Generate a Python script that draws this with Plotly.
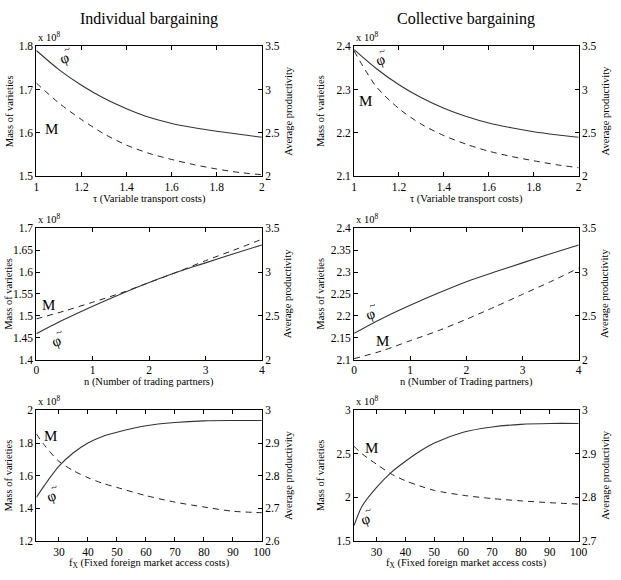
import plotly.graph_objects as go

# ---------------- data ----------------
tau = [1.0, 1.1, 1.2, 1.3, 1.4, 1.5, 1.6, 1.7, 1.8, 1.9, 2.0]
ind_tau_prod = [3.45, 3.23, 3.05, 2.90, 2.78, 2.68, 2.61, 2.56, 2.52, 2.485, 2.45]
ind_tau_mass = [1.715, 1.669, 1.631, 1.598, 1.572, 1.553, 1.539, 1.527, 1.517, 1.509, 1.504]
col_tau_prod = [3.46, 3.24, 3.055, 2.905, 2.785, 2.69, 2.615, 2.56, 2.515, 2.48, 2.45]
col_tau_mass = [2.389, 2.306, 2.256, 2.220, 2.194, 2.174, 2.158, 2.146, 2.136, 2.127, 2.120]

n_partners = [0, 0.5, 1, 1.5, 2, 2.5, 3, 3.5, 4]
ind_n_prod = [2.295, 2.46, 2.61, 2.75, 2.88, 3.00, 3.105, 3.21, 3.31]
ind_n_mass = [1.493, 1.511, 1.531, 1.552, 1.576, 1.600, 1.626, 1.650, 1.675]
col_n_prod = [2.30, 2.47, 2.62, 2.76, 2.89, 3.00, 3.105, 3.21, 3.31]
col_n_mass = [2.102, 2.120, 2.143, 2.166, 2.192, 2.220, 2.249, 2.278, 2.309]

fx = [22.2, 25, 30, 35, 40, 45, 50, 60, 70, 80, 90, 100]
ind_fx_prod = [2.733, 2.77, 2.829, 2.87, 2.90, 2.92, 2.933, 2.953, 2.963, 2.968, 2.969, 2.969]
ind_fx_mass = [1.856, 1.787, 1.687, 1.63, 1.587, 1.553, 1.527, 1.477, 1.437, 1.407, 1.381, 1.372]
col_fx_prod = [2.735, 2.78, 2.823, 2.857, 2.883, 2.906, 2.925, 2.95, 2.962, 2.968, 2.970, 2.970]
col_fx_mass = [2.586, 2.50, 2.38, 2.27, 2.19, 2.13, 2.079, 2.023, 1.985, 1.959, 1.938, 1.921]

titles = ["Individual bargaining", "Collective bargaining"]
xlabels = ["τ (Variable transport costs)", "τ (Variable transport costs)",
           "n (Number of trading partners)", "n (Number of Trading partners)",
           "f<sub>X</sub> (Fixed foreign market access costs)",
           "f<sub>X</sub> (Fixed foreign market access costs)"]

# ---------------- layout geometry ----------------
W, H = 621, 580
cols_px = [(34, 264), (358, 587)]
rows_px = [(41, 174), (227, 361), (413, 546)]
ytitle_left_off = [28, 34]

panels = [
    dict(x=tau, prod=ind_tau_prod, mass=ind_tau_mass, xr=[1, 2], xt=[1, 1.2, 1.4, 1.6, 1.8, 2],
         xtt=["1", "1.2", "1.4", "1.6", "1.8", "2"],
         lr=[1.5, 1.8], lt=[1.5, 1.6, 1.7, 1.8], ltt=["1.5", "1.6", "1.7", "1.8"],
         rr=[2, 3.5], rt=[2, 2.5, 3, 3.5], rtt=["2", "2.5", "3", "3.5"],
         M=(1.068, 1.609), P=(1.126, 1.772)),
    dict(x=tau, prod=col_tau_prod, mass=col_tau_mass, xr=[1, 2], xt=[1, 1.2, 1.4, 1.6, 1.8, 2],
         xtt=["1", "1.2", "1.4", "1.6", "1.8", "2"],
         lr=[2.1, 2.4], lt=[2.1, 2.2, 2.3, 2.4], ltt=["2.1", "2.2", "2.3", "2.4"],
         rr=[2, 3.5], rt=[2, 2.5, 3, 3.5], rtt=["2", "2.5", "3", "3.5"],
         M=(1.051, 2.273), P=(1.116, 2.368)),
    dict(x=n_partners, prod=ind_n_prod, mass=ind_n_mass, xr=[0, 4], xt=[0, 1, 2, 3, 4],
         xtt=["0", "1", "2", "3", "4"],
         lr=[1.4, 1.7], lt=[1.4, 1.45, 1.5, 1.55, 1.6, 1.65, 1.7],
         ltt=["1.4", "1.45", "1.5", "1.55", "1.6", "1.65", "1.7"],
         rr=[2, 3.5], rt=[2, 2.5, 3, 3.5], rtt=["2", "2.5", "3", "3.5"],
         M=(0.214, 1.525), P=(0.36, 1.443)),
    dict(x=n_partners, prod=col_n_prod, mass=col_n_mass, xr=[0, 4], xt=[0, 1, 2, 3, 4],
         xtt=["0", "1", "2", "3", "4"],
         lr=[2.1, 2.4], lt=[2.1, 2.15, 2.2, 2.25, 2.3, 2.35, 2.4],
         ltt=["2.1", "2.15", "2.2", "2.25", "2.3", "2.35", "2.4"],
         rr=[2, 3.5], rt=[2, 2.5, 3, 3.5], rtt=["2", "2.5", "3", "3.5"],
         M=(0.507, 2.143), P=(0.29, 2.205)),
    dict(x=fx, prod=ind_fx_prod, mass=ind_fx_mass, xr=[22.2, 100], xt=[30, 40, 50, 60, 70, 80, 90, 100],
         xtt=["30", "40", "50", "60", "70", "80", "90", "100"],
         lr=[1.2, 2.0], lt=[1.2, 1.4, 1.6, 1.8, 2.0], ltt=["1.2", "1.4", "1.6", "1.8", "2"],
         rr=[2.6, 3.0], rt=[2.6, 2.7, 2.8, 2.9, 3.0], rtt=["2.6", "2.7", "2.8", "2.9", "3"],
         M=(26.96, 1.846), P=(27.5, 1.475)),
    dict(x=fx, prod=col_fx_prod, mass=col_fx_mass, xr=[22.2, 100], xt=[30, 40, 50, 60, 70, 80, 90, 100],
         xtt=["30", "40", "50", "60", "70", "80", "90", "100"],
         lr=[1.5, 3.0], lt=[1.5, 2.0, 2.5, 3.0], ltt=["1.5", "2", "2.5", "3"],
         rr=[2.7, 3.0], rt=[2.7, 2.8, 2.9, 3.0], rtt=["2.7", "2.8", "2.9", "3"],
         M=(28.3, 2.568), P=(26.2, 1.75)),
]

FONT = "Liberation Serif"
fig = go.Figure()
layout = dict(width=W, height=H, margin=dict(l=0, r=0, t=0, b=0),
              paper_bgcolor="white", plot_bgcolor="white", showlegend=False,
              font=dict(family=FONT, size=11, color="black"))
annotations = []

for i, p in enumerate(panels):
    r, c = divmod(i, 2)
    x0, x1 = cols_px[c]
    y0, y1 = rows_px[r]
    xd = [x0 / W, x1 / W]
    yd = [1 - y1 / H, 1 - y0 / H]
    xa = f"x{i+1}"
    yl = f"y{2*i+1}"
    yr = f"y{2*i+2}"
    xkey = "xaxis" if i == 0 else f"xaxis{i+1}"
    ylkey = "yaxis" if 2 * i + 1 == 1 else f"yaxis{2*i+1}"
    yrkey = f"yaxis{2*i+2}"

    layout[xkey] = dict(domain=xd, anchor=yl, range=p["xr"], tickvals=p["xt"], ticktext=p["xtt"],
                        ticks="inside", ticklen=4, tickcolor="black", showline=True, linecolor="black",
                        linewidth=1, mirror="ticks", showgrid=False, zeroline=False,
                        tickfont=dict(size=11.5, family=FONT))
    layout[ylkey] = dict(domain=yd, anchor=xa, range=p["lr"], tickvals=p["lt"], ticktext=p["ltt"],
                         ticks="inside", ticklen=4, tickcolor="black", showline=True, linecolor="black",
                         linewidth=1, showgrid=False, zeroline=False, side="left",
                         tickfont=dict(size=11.5, family=FONT))
    layout[yrkey] = dict(domain=yd, anchor=xa, overlaying=yl, side="right", range=p["rr"],
                         tickvals=p["rt"], ticktext=p["rtt"], ticks="inside", ticklen=4,
                         tickcolor="black", showline=True, linecolor="black", linewidth=1,
                         showgrid=False, zeroline=False, tickfont=dict(size=11.5, family=FONT))

    fig.add_trace(go.Scatter(x=p["x"], y=p["mass"], xaxis=xa, yaxis=yl, mode="lines",
                             line=dict(color="#222", width=1, dash="6px,5px", shape="spline",
                                       smoothing=0.8),
                             hoverinfo="skip"))
    fig.add_trace(go.Scatter(x=p["x"], y=p["prod"], xaxis=xa, yaxis=yr, mode="lines",
                             line=dict(color="#333", width=1.1, shape="spline", smoothing=0.8),
                             hoverinfo="skip"))

    # curve labels
    annotations.append(dict(x=p["M"][0], y=p["M"][1], xref=xa, yref=yl, text="M", showarrow=False,
                            font=dict(size=15, family=FONT, color="black")))
    annotations.append(dict(x=p["P"][0], y=p["P"][1], xref=xa, yref=yl, text="φ", showarrow=False,
                            textangle=-20, font=dict(size=15, family=FONT, color="black")))
    annotations.append(dict(x=p["P"][0], y=p["P"][1], xref=xa, yref=yl, text="~", showarrow=False,
                            xshift=2, yshift=9, textangle=-20,
                            font=dict(size=11, family=FONT, color="black")))
    # x 10^8
    annotations.append(dict(x=x0 / W, y=1 - (y0 - 1) / H, xref="paper", yref="paper",
                            text="x 10<sup>8</sup>", showarrow=False, xanchor="left", yanchor="bottom",
                            font=dict(size=10.5, family=FONT)))
    # x axis title
    annotations.append(dict(x=(x0 + x1) / 2 / W, y=1 - (y1 + 23) / H, xref="paper", yref="paper",
                            text=xlabels[i], showarrow=False, xanchor="center", yanchor="middle",
                            font=dict(size=10.5, family=FONT)))
    # left y title
    annotations.append(dict(x=(x0 - ytitle_left_off[c]) / W, y=(yd[0] + yd[1]) / 2, xref="paper",
                            yref="paper", text="Mass of varieties", showarrow=False, textangle=-90,
                            xanchor="center", yanchor="middle", font=dict(size=10.5, family=FONT)))
    # right y title
    annotations.append(dict(x=(x1 + 27) / W, y=(yd[0] + yd[1]) / 2, xref="paper", yref="paper",
                            text="Average productivity", showarrow=False, textangle=-90,
                            xanchor="center", yanchor="middle", font=dict(size=10.5, family=FONT)))

for c, t in enumerate(titles):
    x0, x1 = cols_px[c]
    annotations.append(dict(x=(x0 + x1) / 2 / W, y=1 - 2 / H, xref="paper", yref="paper",
                            text=t, showarrow=False, xanchor="center", yanchor="top",
                            font=dict(size=16, family=FONT)))

layout["annotations"] = annotations
fig.update_layout(**layout)
fig.write_html("out.html")
